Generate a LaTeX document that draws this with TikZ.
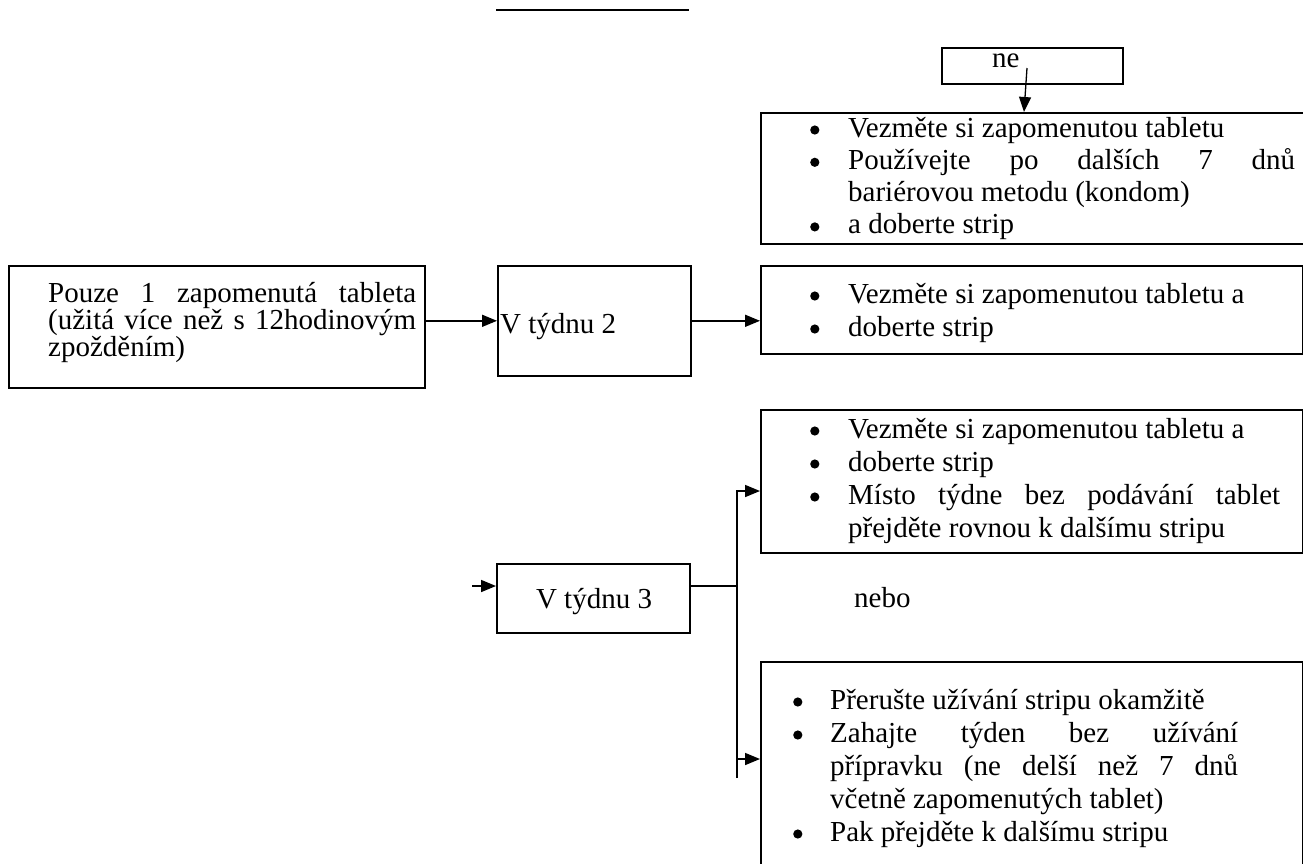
\documentclass[tikz,border=0pt]{standalone}
\usepackage{fontspec}
\setmainfont{Liberation Serif}
\usetikzlibrary{arrows.meta}
\newcommand\bul{\tikz[baseline=0pt]\fill (5pt,7pt) circle[radius=4.6pt];}
\newcommand\bitem[2]{\noindent\hangindent=#1\hangafter=1\makebox[#1][l]{\bul}\ignorespaces#2\par}
\newcommand\bodyfont{\fontsize{29}{33}\selectfont\tolerance=9999\relax\hyphenpenalty=10000\relax}
\newcommand\topfont{\fontsize{29}{32.3}\selectfont\tolerance=9999\relax\hyphenpenalty=10000\relax}
\newcommand\leftfont{\fontsize{29}{25.5}\selectfont\tolerance=9999\relax\hyphenpenalty=10000\relax}
\tikzset{
 box/.style={draw, line width=1.6pt, inner sep=0pt, anchor=north west},
 txt/.style={inner sep=0pt, anchor=base west, font=\bodyfont},
 arr/.style={line width=1.6pt, -{Triangle[length=15pt,width=12pt]}},
 ln/.style={line width=1.6pt},
}
\begin{document}
\begin{tikzpicture}[x=1pt,y=-1pt]
\useasboundingbox (0,0) rectangle (1303,863);
% top rule
\draw[ln] (496,10) -- (689,10);
% "ne" box
\node[box, minimum width=181pt, minimum height=36pt] (ne) at (941,47) {};
\node[txt] (netxt) at (992,67) {ne};
% top result box (runs off the right edge)
\node[box, line width=2.2pt, minimum width=570pt, minimum height=131pt] (top) at (760,112) {};
\node[txt] (toptxt) at (810,137) {\parbox[t]{485pt}{\topfont
  \bitem{38pt}{Vezměte si zapomenutou tabletu}
  \bitem{38pt}{Používejte po dalších 7 dnů\linebreak bariérovou metodu (kondom)}
  \bitem{38pt}{a doberte strip}}};
\coordinate (nea) at (1027,68);
\coordinate (neb) at (1024,112);
\draw[arr, line width=1.3pt] (nea) -- (neb);
% left box
\node[box, minimum width=416pt, minimum height=122pt] (lbox) at (8,265) {};
\node[txt] (ltxt) at (48,302) {\parbox[t]{368pt}{\leftfont
  Pouze 1 zapomenutá tableta\linebreak (užitá více než s 12hodinovým\linebreak zpožděním)}};
% week 2
\node[box, minimum width=193pt, minimum height=110pt] (w2) at (497,265) {};
\node[txt] (w2txt) at (500,333) {V týdnu 2};
\node[box, minimum width=542pt, minimum height=88pt] (b2) at (760,265) {};
\node[txt] (b2txt) at (810,303) {\parbox[t]{480pt}{\bodyfont
  \bitem{38pt}{Vezměte si zapomenutou tabletu a}
  \bitem{38pt}{doberte strip}}};
\draw[arr] (w2.west -| lbox.east) -- (w2.west);
\draw[arr] (w2.east) -- (w2.east -| b2.west);
% week 3
\node[box, minimum width=193pt, minimum height=69pt] (w3) at (496,563) {};
\node[txt, anchor=base] (w3txt) at (594,608) {V týdnu 3};
\coordinate (s3) at (472,586);
\draw[arr] (s3) -- (s3 -| w3.west);
\node[box, minimum width=542pt, minimum height=143pt] (b3) at (760,409) {};
\node[txt] (b3txt) at (810,438) {\parbox[t]{470pt}{\bodyfont
  \bitem{38pt}{Vezměte si zapomenutou tabletu a}
  \bitem{38pt}{doberte strip}
  \bitem{38pt}{Místo týdne bez podávání tablet\linebreak přejděte rovnou k dalšímu stripu}}};
\node[txt] (nebo) at (854,607) {nebo};
\node[box, minimum width=542pt, minimum height=230pt] (b4) at (760,661) {};
\node[txt] (b4txt) at (793,709) {\parbox[t]{445pt}{\bodyfont
  \bitem{37pt}{Přerušte užívání stripu okamžitě}
  \bitem{37pt}{Zahajte týden bez užívání\linebreak přípravku (ne delší než 7 dnů\linebreak včetně zapomenutých tablet)}
  \bitem{37pt}{Pak přejděte k dalšímu stripu}}};
\coordinate (br) at (737,586);
\coordinate (brtop) at (737,491);
\coordinate (brbot) at (737,778);
\coordinate (ar4) at (737,759);
\draw[ln] (br -| w3.east) -- (br);
\draw[arr] (brbot) -- (brtop) -- (brtop -| b3.west);
\draw[arr] (ar4) -- (ar4 -| b4.west);
\end{tikzpicture}
\end{document}
